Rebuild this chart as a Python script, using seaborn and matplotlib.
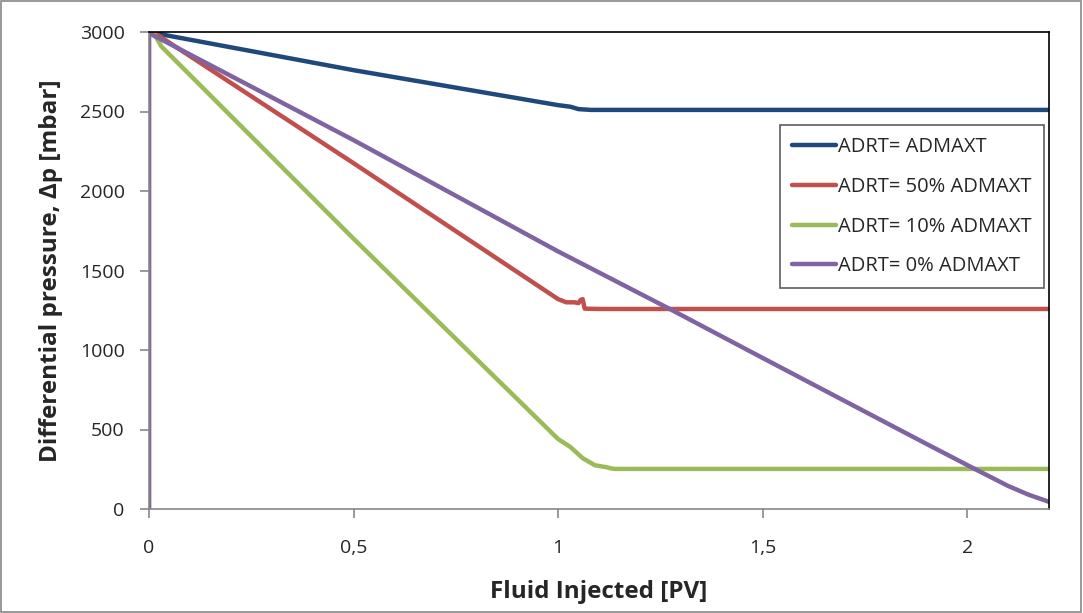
import matplotlib
matplotlib.use("Agg")
import matplotlib.pyplot as plt
import matplotlib.patches as mpatches
import pandas as pd
import seaborn as sns

sns.set_theme(style='white')
plt.rcParams['font.family'] = ['Open Sans', 'DejaVu Sans']

# Series values (x in PV, y in mbar)
blue_x = [0.02, 0.50, 1.00, 1.03, 1.05, 1.08, 1.50, 2.20]
blue_y = [2990, 2760, 2540, 2530, 2515, 2510, 2510, 2510]

red_x = [0.01, 0.50, 1.00, 1.02, 1.04, 1.05, 1.055, 1.06, 1.065, 1.10, 2.20]
red_y = [3000, 2175, 1320, 1300, 1300, 1295, 1315, 1320, 1260, 1258, 1258]

green_x = [0.0, 0.0, 0.01, 0.03, 0.50, 1.00, 1.03, 1.06, 1.09, 1.12, 1.13, 1.14, 2.20]
green_y = [0, 2980, 3000, 2910, 1700, 440, 390, 320, 275, 262, 255, 252, 252]

purple_x = [0.0, 0.0, 0.01, 0.50, 1.00, 1.27, 1.50, 1.90, 2.02, 2.10, 2.15, 2.20]
purple_y = [0, 3000, 2980, 2320, 1620, 1262, 950, 410, 250, 145, 90, 45]

labels = ['ADRT= ADMAXT', 'ADRT= 50% ADMAXT', 'ADRT= 10% ADMAXT', 'ADRT= 0% ADMAXT']
colors = ['#1F497D', '#C0504D', '#9BBB59', '#8064A2']
series = [(blue_x, blue_y), (red_x, red_y), (green_x, green_y), (purple_x, purple_y)]

fig = plt.figure(figsize=(10.83, 6.13), dpi=100)
ax = fig.add_axes([149 / 1083, 104 / 613, 900 / 1083, 477 / 613])

for (xs, ys), lab, col in zip(series, labels, colors):
    df = pd.DataFrame({'x': xs, 'y': ys})
    sns.lineplot(ax=ax, data=df, x='x', y='y', sort=False, color=col, lw=3.2,
                 label=lab, estimator=None)

ax.set_xlim(0, 2.2)
ax.set_ylim(0, 3000)
ax.set_xticks([0, 0.5, 1, 1.5, 2])
ax.set_xticklabels(['0', '0,5', '1', '1,5', '2'])
ax.set_yticks(range(0, 3001, 500))
ax.tick_params(axis='both', labelsize=14, length=6.5, width=1.2, color='#888888',
               direction='out')
ax.tick_params(axis='x', pad=15)
ax.tick_params(axis='y', pad=11)
ax.xaxis.set_ticks_position('bottom')
ax.yaxis.set_ticks_position('left')

for side in ['left', 'bottom']:
    ax.spines[side].set_color('#888888')
    ax.spines[side].set_linewidth(1.2)
for side in ['top', 'right']:
    ax.spines[side].set_color('black')
    ax.spines[side].set_linewidth(1.2)

ax.set_xlabel('Fluid Injected [PV]', fontsize=17.5, fontweight='bold', labelpad=17)
ax.set_ylabel('Differential pressure, Δp [mbar]', fontsize=17.5, fontweight='bold',
              labelpad=12)

leg = ax.legend(loc='upper right', bbox_to_anchor=(0.9944, 0.805), fontsize=14.5,
                frameon=True, fancybox=False, handlelength=2.2, handletextpad=0.1,
                labelspacing=0.98, borderpad=0.6, borderaxespad=0)
leg.get_frame().set_edgecolor('#333333')
leg.get_frame().set_linewidth(1.2)

# outer chart border
fig.patches.append(mpatches.Rectangle((0.001, 0.002), 0.997, 0.996, transform=fig.transFigure,
                                      fill=False, edgecolor='#888888', lw=1.2))

fig.savefig('out.png', dpi=100)
